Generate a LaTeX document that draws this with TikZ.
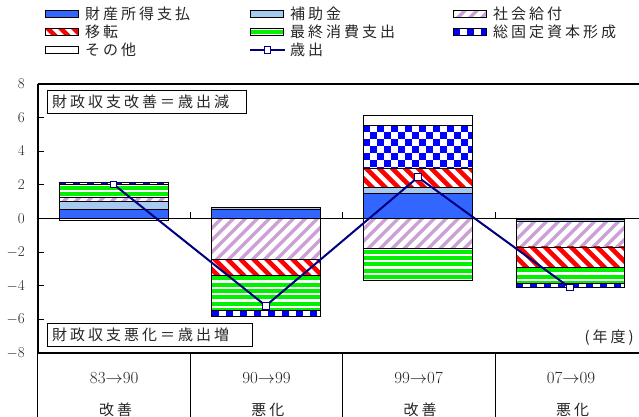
\documentclass[tikz,border=0pt]{standalone}
\usepackage{fontspec}
\newfontfamily\jp[LetterSpace=20]{Noto Sans CJK JP}
\definecolor{cBlue}{RGB}{51,102,255}
\definecolor{cLBlue}{RGB}{166,202,240}
\definecolor{cPurp}{RGB}{204,162,214}
\definecolor{cRed}{RGB}{255,0,0}
\definecolor{cGreen}{RGB}{0,240,0}
\definecolor{cChk}{RGB}{0,0,255}
\definecolor{cNavy}{RGB}{0,0,128}
\def\Z{218.3}
\def\U{16.85}
% fills: x1, ytop, x2, ybottom (pixel coords)
\newcommand\fBlue[4]{\fill[cBlue] (#1,#2) rectangle (#3,#4);}
\newcommand\fLB[4]{\fill[cLBlue] (#1,#2) rectangle (#3,#4);}
\newcommand\fWhite[4]{\fill[white] (#1,#2) rectangle (#3,#4);}
\newcommand\fUp[4]{\begin{scope}\clip (#1,#2) rectangle (#3,#4);
  \fill[white] (#1,#2) rectangle (#3,#4);
  \foreach \s in {-130,-118,...,130}{\draw[cPurp,line width=3.4pt] ({#1+\s},{#4+3}) -- ++(130,-130);}
  \end{scope}}
\newcommand\fDown[4]{\begin{scope}\clip (#1,#2) rectangle (#3,#4);
  \fill[white] (#1,#2) rectangle (#3,#4);
  \foreach \s in {-130,-117,...,130}{\draw[cRed,line width=4.6pt] ({#1+\s},{#2-3}) -- ++(130,130);}
  \end{scope}}
\newcommand\fGreen[4]{\begin{scope}\clip (#1,#2) rectangle (#3,#4);
  \fill[white] (#1,#2) rectangle (#3,#4);
  \foreach \k in {0,...,12}{\fill[cGreen] (#1,{#2+1.2+\k*6.3}) rectangle (#3,{#2+1.2+\k*6.3+4});}
  \end{scope}}
\newcommand\fChk[4]{\begin{scope}\clip (#1,#2) rectangle (#3,#4);
  \fill[white] (#1,#2) rectangle (#3,#4);
  \foreach \j in {0,...,8}{\foreach \i in {0,2,...,16}{\fill[cChk] ({#1+(\i+mod(\j,2))*7},{#2+\j*7}) rectangle ++(7,7);}}
  \end{scope}}
% bar segment: x1, x2, v1, v2, type
\newcommand\seg[5]{%
  \pgfmathsetmacro\yt{\Z-\U*max(#3,#4)}%
  \pgfmathsetmacro\yb{\Z-\U*min(#3,#4)}%
  \csname f#5\endcsname{#1}{\yt}{#2}{\yb}%
  \draw[bord] (#1,\yt) rectangle (#2,\yb);}
% legend swatch: x, y(center), type
\newcommand\swatch[3]{%
  \csname f#3\endcsname{#1}{#2-3.5}{#1+33}{#2+3.5}%
  \draw[bord] (#1,{#2-3.5}) rectangle ({#1+33},{#2+3.5});}
\tikzset{
  bord/.style={draw=black,line width=0.9pt},
  jptext/.style={font=\jp\fontsize{15}{17}\selectfont,text=black!85,inner sep=0pt},
  axlab/.style={font=\fontsize{15}{17}\selectfont,text=black!85,inner sep=0pt,anchor=east},
  catnum/.style={font=\fontsize{17}{19}\selectfont,text=black!85,inner sep=0pt},
  mk/.style={rectangle,draw=cNavy,fill=white,line width=1pt,minimum size=6.5pt,inner sep=0pt},
  serie/.style={cNavy,line width=2pt},
  tbox/.style={draw=black,line width=0.9pt,fill=white,anchor=north west,align=left,inner ysep=0pt,minimum height=23pt,font=\jp\fontsize{15}{17}\selectfont,text=black!85},
}
\begin{document}
\begin{tikzpicture}[x=1pt,y=-1pt]
\useasboundingbox (0,0) rectangle (639,416);
\fill[white] (0,0) rectangle (639,416);
% legend
\swatch{45}{14}{Blue}   \node[jptext,anchor=west] (l1) at (85,14) {財産所得支払};
\swatch{45}{32}{Down}   \node[jptext,anchor=west] (l2) at (85,32) {移転};
\swatch{45}{50}{White}  \node[jptext,anchor=west] (l3) at (85,50) {その他};
\swatch{250}{14}{LB}    \node[jptext,anchor=west] (l4) at (290,14) {補助金};
\swatch{250}{32}{Green} \node[jptext,anchor=west] (l5) at (290,32) {最終消費支出};
\coordinate (la) at (250,50); \coordinate (lb) at (285,50);
\draw[serie] (la) -- (lb);
\node[mk] (lm) at (267.5,50) {};
\node[jptext,anchor=west] (l6) at (290,50) {歳出};
\swatch{453}{14}{Up}    \node[jptext,anchor=west] (l7) at (493,14) {社会給付};
\swatch{453}{32}{Chk}   \node[jptext,anchor=west] (l8) at (493,32) {総固定資本形成};
% axes labels and ticks
\foreach \v/\t in {8/8,6/6,4/4,2/2,0/0,-2/{$-$2},-4/{$-$4},-6/{$-$6},-8/{$-$8}}{
  \node[axlab] at (25,{\Z-\U*\v}) {\t};}
\foreach \v in {-6,-4,...,6}{\draw[line width=0.8pt] (37.7,{\Z-\U*\v}) -- (43.5,{\Z-\U*\v});}
% zero line and category ticks
\draw[line width=0.8pt] (37.7,\Z) -- (639,\Z);
\foreach \x in {190.7,342.3,495}{\draw[line width=0.8pt] (\x,\Z) -- (\x,{\Z-6.5});}
% bars
\seg{59}{168.3}{0}{0.5}{Blue}
\seg{59}{168.3}{0.5}{1.03}{LB}
\seg{59}{168.3}{1.03}{1.22}{Up}
\seg{59}{168.3}{1.22}{1.98}{Green}
\seg{59}{168.3}{1.98}{2.13}{Chk}
\seg{59}{168.3}{0}{-0.12}{White}
\seg{211.7}{320}{0}{0.5}{Blue}
\seg{211.7}{320}{0.5}{0.63}{LB}
\seg{211.7}{320}{0}{-2.43}{Up}
\seg{211.7}{320}{-2.43}{-3.38}{Down}
\seg{211.7}{320}{-3.38}{-5.45}{Green}
\seg{211.7}{320}{-5.45}{-5.84}{Chk}
\seg{363.3}{472.7}{0}{1.47}{Blue}
\seg{363.3}{472.7}{1.47}{1.83}{LB}
\seg{363.3}{472.7}{1.83}{2.96}{Down}
\seg{363.3}{472.7}{2.96}{5.52}{Chk}
\seg{363.3}{472.7}{5.52}{6.08}{White}
\seg{363.3}{472.7}{0}{-1.79}{Up}
\seg{363.3}{472.7}{-1.79}{-3.66}{Green}
\seg{516}{624}{-0.04}{-0.16}{LB}
\seg{516}{624}{-0.16}{-1.7}{Up}
\seg{516}{624}{-1.7}{-2.89}{Down}
\seg{516}{624}{-2.89}{-3.84}{Green}
\seg{516}{624}{-3.84}{-4.12}{Chk}
% frame
\draw[line width=2pt] (37.7,{\Z-\U*8}) -- (639,{\Z-\U*8});
\draw[line width=2pt] (37.7,{\Z-\U*8}) -- (37.7,{\Z+\U*8});
\draw[line width=2pt] (37.7,{\Z+\U*8}) -- (639,{\Z+\U*8});
% text boxes
\node[tbox,text width=189pt,inner xsep=5pt] (b1) at (46.7,90) {財政収支改善＝歳出減};
\node[tbox,text width=195pt,inner xsep=5pt] (b2) at (46.7,323) {財政収支悪化＝歳出増};
\node[jptext,anchor=east] (nd) at (634,338) {(年度)};
% series
\coordinate (c1) at (113.7,{\Z-\U*2.01});
\coordinate (c2) at (265.8,{\Z+\U*5.19});
\coordinate (c3) at (418,{\Z-\U*2.44});
\coordinate (c4) at (570,{\Z+\U*4.12});
\draw[serie] (c1) -- (c2) -- (c3) -- (c4);
\node[mk] (m1) at (c1) {};
\node[mk] (m2) at (c2) {};
\node[mk] (m3) at (c3) {};
\node[mk] (m4) at (c4) {};
% table
\foreach \x in {37.7,190.7,342.3,495}{\draw[line width=0.8pt] (\x,{\Z+\U*8}) -- (\x,420);}
\node[catnum] (t1) at (114.2,378) {83$\rightarrow$90};
\node[catnum] (t2) at (266.5,378) {90$\rightarrow$99};
\node[catnum] (t3) at (418.6,378) {99$\rightarrow$07};
\node[catnum] (t4) at (571,378) {07$\rightarrow$09};
\node[jptext] (u1) at (115.5,410) {改善};
\node[jptext] (u2) at (267.8,410) {悪化};
\node[jptext] (u3) at (420,410) {改善};
\node[jptext] (u4) at (572.5,410) {悪化};
\end{tikzpicture}
\end{document}
